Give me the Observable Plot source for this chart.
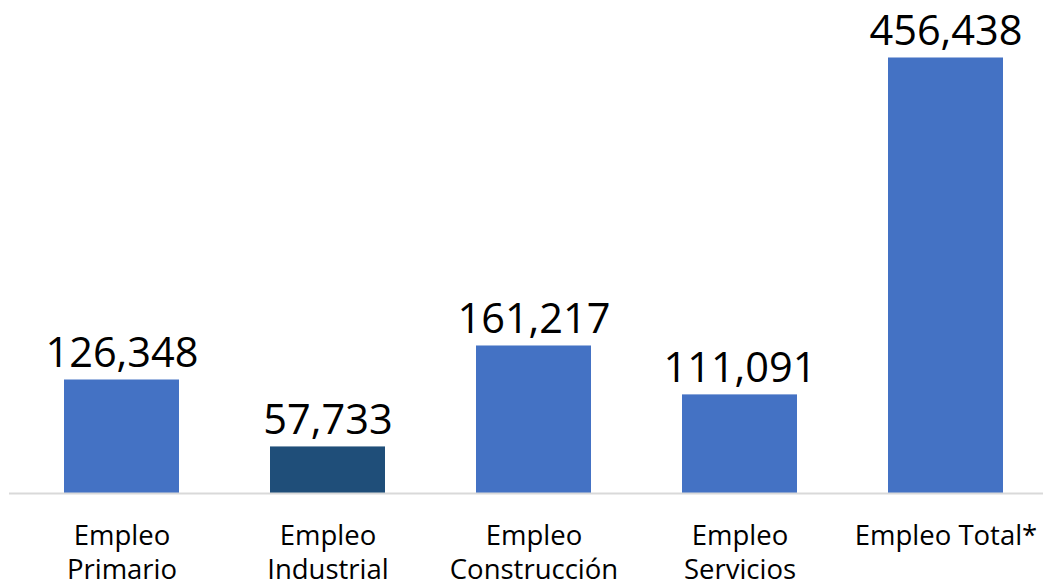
<!DOCTYPE html>
<html>
<head>
<meta charset="utf-8">
<script src="https://cdn.jsdelivr.net/npm/d3@7"></script>
<script src="https://cdn.jsdelivr.net/npm/@observablehq/plot@0.6"></script>
<style>
  html, body { margin: 0; padding: 0; background: #fff; }
  #chart { width: 1043px; height: 587px; overflow: hidden; }
</style>
</head>
<body>
<div id="chart"></div>
<script>
const categories = ["Empleo\nPrimario", "Empleo\nIndustrial", "Empleo\nConstrucción", "Empleo\nServicios", "Empleo Total*"];
const values = [126348, 57733, 161217, 111091, 456438];
const colors = ["#4472C4", "#1F4E79", "#4472C4", "#4472C4", "#4472C4"];
const yMin = 10000;
const yMax = 500000;

const data = categories.map((c, i) => ({cat: c, value: values[i], color: colors[i]}));
const fmt = d3.format(",");

const chart = Plot.plot({
  width: 1043,
  height: 587,
  marginTop: 15,
  marginBottom: 94,
  marginLeft: 9,
  marginRight: 0,
  style: {fontFamily: "'Open Sans', sans-serif", background: "#fff"},
  x: {domain: categories, range: [17, 1050], paddingInner: 0.443, paddingOuter: 0.2215, axis: null},
  y: {domain: [yMin, yMax], axis: null},
  marks: [
    Plot.barY(data, {x: "cat", y1: yMin, y2: "value", fill: "color"}),
    Plot.ruleY([yMin], {stroke: "#D9D9D9", strokeWidth: 2}),
    Plot.text(data, {x: "cat", y: "value", text: d => fmt(d.value), lineAnchor: "bottom", dy: -13, fontSize: 41.5, fill: "#000"}),
    Plot.text(data, {x: "cat", frameAnchor: "bottom", text: "cat", lineAnchor: "top", dy: 27, fontSize: 27.5, lineHeight: 1.24, fill: "#000"})
  ]
});
document.getElementById("chart").appendChild(chart);
</script>
</body>
</html>
